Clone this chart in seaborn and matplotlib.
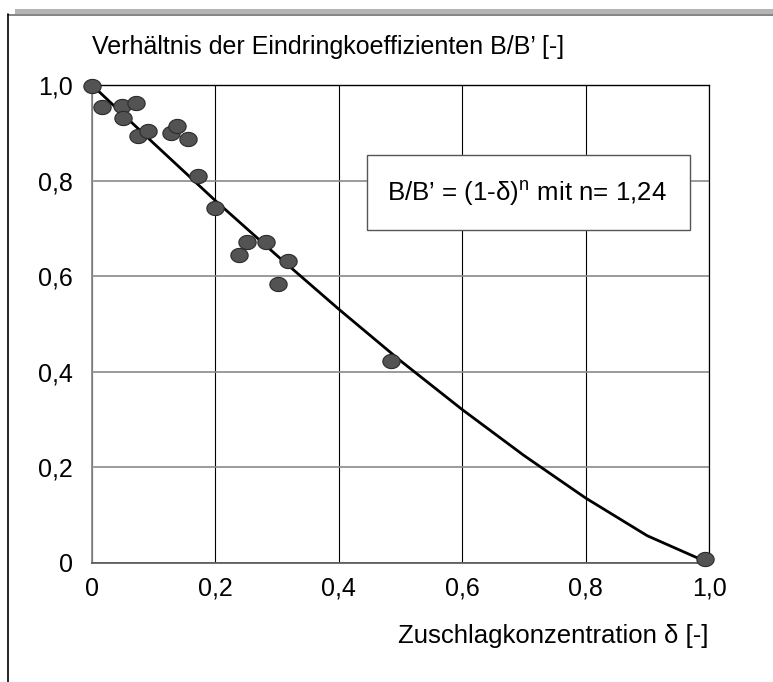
import numpy as np
import pandas as pd
import matplotlib
matplotlib.use("Agg")
import matplotlib.pyplot as plt
from matplotlib.path import Path
from matplotlib.lines import Line2D
from matplotlib.patches import Rectangle
import seaborn as sns

# ---- data ----
delta_pts = [0.0, 0.016, 0.048, 0.072, 0.051, 0.075, 0.090, 0.128, 0.137, 0.155,
             0.171, 0.199, 0.251, 0.282, 0.238, 0.318, 0.301, 0.484, 0.994]
ratio_pts = [0.998, 0.953, 0.957, 0.963, 0.932, 0.893, 0.904, 0.899, 0.914, 0.888,
             0.810, 0.742, 0.672, 0.672, 0.644, 0.632, 0.583, 0.423, 0.008]

delta_fit = [0.0, 0.1, 0.2, 0.3, 0.4, 0.5, 0.6, 0.7, 0.8, 0.9, 1.0]
ratio_fit = [1.0, 0.878, 0.758, 0.643, 0.531, 0.423, 0.321, 0.225, 0.136, 0.057, 0.0]

tick_vals = [0.0, 0.2, 0.4, 0.6, 0.8, 1.0]
x_tick_labels = ["0", "0,2", "0,4", "0,6", "0,8", "1,0"]
y_tick_labels = ["0", "0,2", "0,4", "0,6", "0,8", "1,0"]

y_title = "Verhältnis der Eindringkoeffizienten B/B’ [-]"
x_title = "Zuschlagkonzentration δ [-]"
fit_text = "B/B’ = (1-δ)$^\\mathregular{n}$ mit n= 1,24"

sns.set_theme(style="white")
plt.rcParams["font.family"] = ["Liberation Sans", "DejaVu Sans"]
plt.rcParams["mathtext.fontset"] = "custom"
plt.rcParams["mathtext.rm"] = "Liberation Sans"
plt.rcParams["mathtext.it"] = "Liberation Sans"

W, H = 773, 682
fig = plt.figure(figsize=(W / 100, H / 100), dpi=100)
fig.patch.set_facecolor("white")

def fx(px):
    return px / W

def fy(py):
    return 1 - py / H

ax = fig.add_axes([fx(92), fy(563), fx(709) - fx(92), fy(85) - fy(563)])
ax.set_facecolor("white")

df_pts = pd.DataFrame({"delta": delta_pts, "ratio": ratio_pts})
df_fit = pd.DataFrame({"delta": delta_fit, "ratio": ratio_fit})

sns.lineplot(data=df_fit, x="delta", y="ratio", ax=ax, color="black",
             linewidth=2.0, zorder=3)

# elliptical marker
t = np.linspace(0, 2 * np.pi, 60)
ell = Path(np.column_stack([np.cos(t) * 1.0, np.sin(t) * 0.82]), closed=True)
sns.scatterplot(data=df_pts, x="delta", y="ratio", ax=ax, marker=ell, s=155,
                color="#535353", edgecolor="#2b2b2b", linewidth=0.8,
                zorder=4, clip_on=False)

ax.set_xlim(0, 1)
ax.set_ylim(0, 1)
ax.set_xticks(tick_vals)
ax.set_xticklabels(x_tick_labels)
ax.set_yticks(tick_vals)
ax.set_yticklabels(y_tick_labels)
ax.tick_params(axis="both", length=0, labelsize=18, colors="black")
ax.tick_params(axis="x", pad=10)
ax.tick_params(axis="y", pad=14)
ax.set_xlabel("")
ax.set_ylabel("")

ax.grid(True, axis="x", color="black", linewidth=0.8)
ax.grid(True, axis="y", color="#8a8a8a", linewidth=1.2)
ax.set_axisbelow(True)
for side, col, lw in [("top", "black", 1.0), ("right", "black", 0.9),
                      ("left", "#8a8a8a", 1.3), ("bottom", "#555555", 1.2)]:
    ax.spines[side].set_visible(True)
    ax.spines[side].set_color(col)
    ax.spines[side].set_linewidth(lw)

# fit annotation box
box = Rectangle((fx(367), fy(230)), fx(690) - fx(367), fy(155) - fy(230),
                transform=fig.transFigure, facecolor="white", edgecolor="#555555",
                linewidth=1.0, zorder=5)
fig.add_artist(box)
fig.text(fx(527), fy(193), fit_text, ha="center", va="center", fontsize=18.6,
         color="black", zorder=6)

# axis titles
fig.text(fx(92), fy(47), y_title, ha="left", va="center", fontsize=18, color="black")
fig.text(fx(709), fy(636), x_title, ha="right", va="center", fontsize=18.5, color="black")

# outer frame decorations
fig.add_artist(Rectangle((fx(15), fy(14)), 1 - fx(15), fy(9) - fy(14),
                         transform=fig.transFigure, facecolor="#b4b4b4",
                         edgecolor="none"))
fig.add_artist(Line2D([fx(8), 1], [fy(14.5), fy(14.5)], transform=fig.transFigure,
                      color="#6e6e6e", linewidth=1.2))
fig.add_artist(Line2D([fx(8), fx(8)], [fy(14), 0], transform=fig.transFigure,
                      color="black", linewidth=1.2))

fig.savefig("out.png", dpi=100, facecolor="white")
